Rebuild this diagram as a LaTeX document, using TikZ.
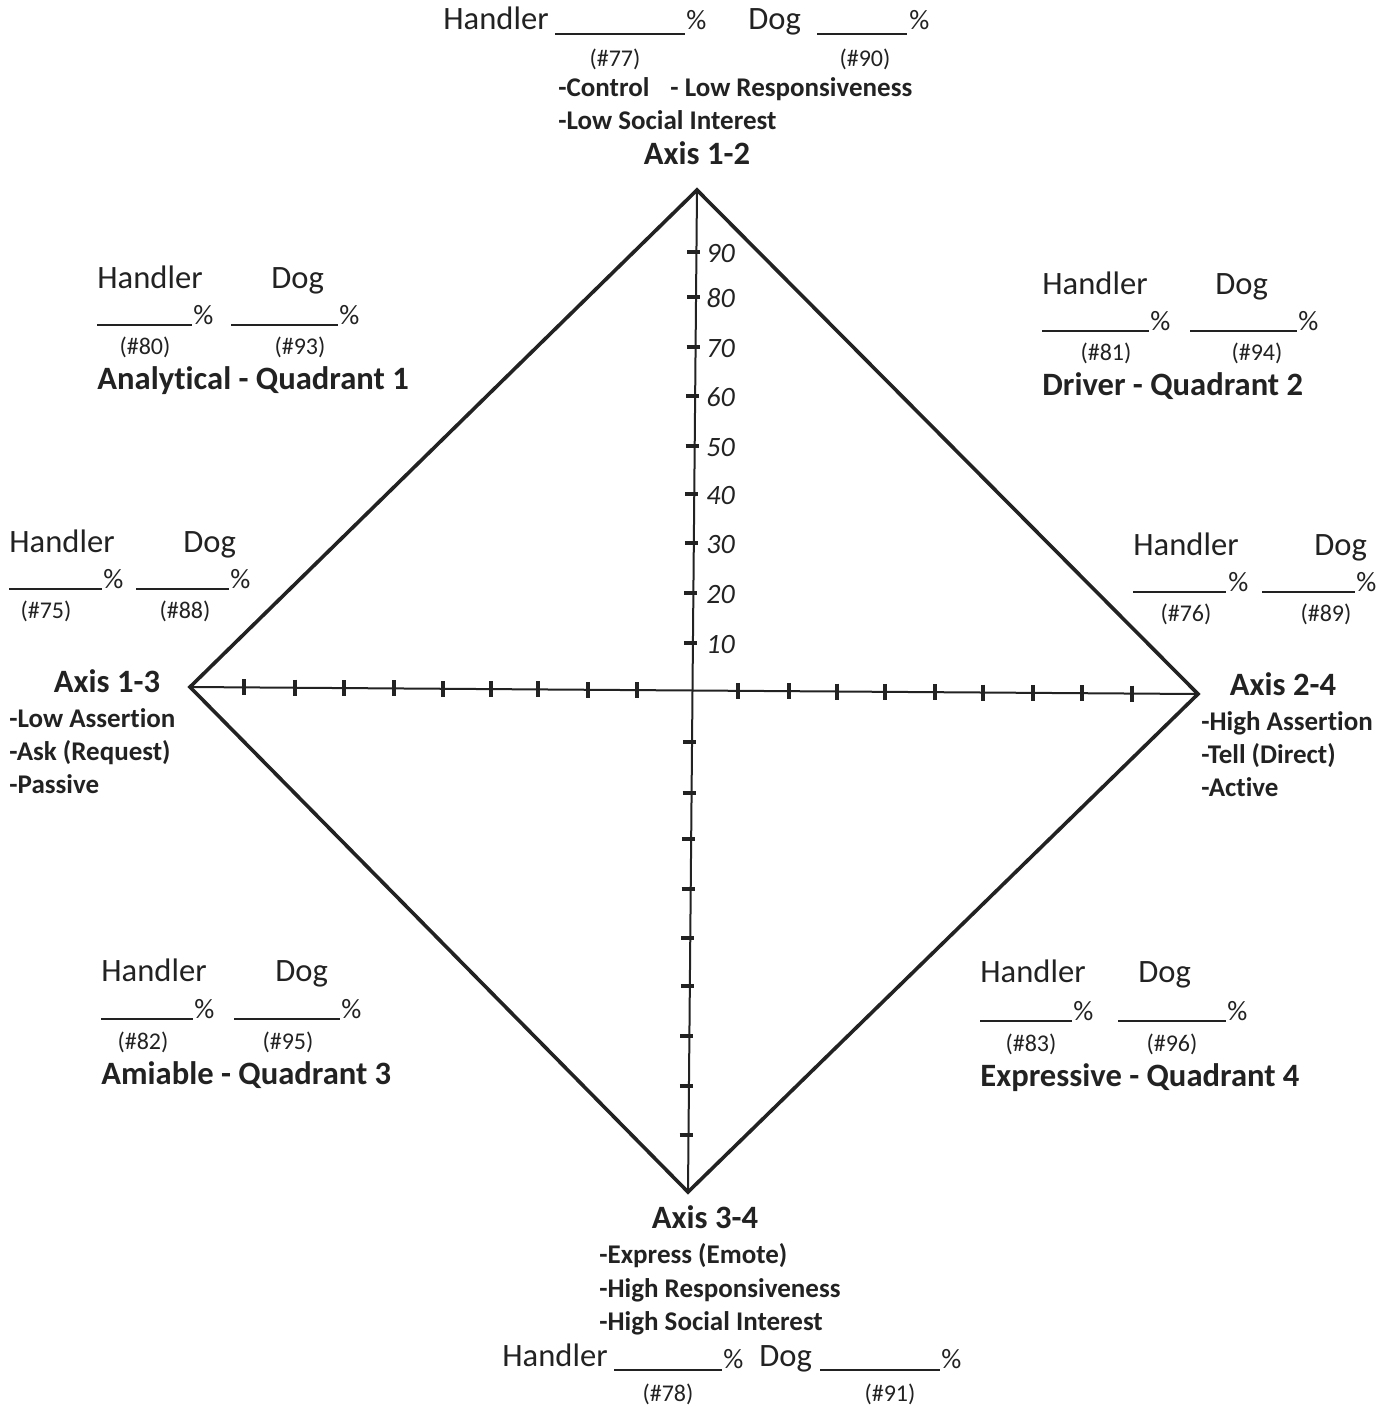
\documentclass[tikz,border=0pt]{standalone}
\usepackage{fontspec}
\setmainfont[Ligatures=NoCommon]{Carlito}
\definecolor{ink}{HTML}{222222}
\begin{document}
\begin{tikzpicture}[x=0.5pt,y=-0.5pt,
  lbl/.style={inner sep=0pt, text height=0.644em, text depth=0pt, text=ink, yshift=-2pt},
  hd/.style={lbl, font=\fontsize{16.3}{18}\selectfont, anchor=west},
  pct/.style={lbl, font=\fontsize{14}{15}\selectfont, anchor=west},
  numlbl/.style={lbl, font=\fontsize{12}{14}\selectfont, anchor=center},
  ttl/.style={lbl, font=\bfseries\fontsize{16.3}{18}\selectfont, anchor=west},
  subl/.style={lbl, font=\bfseries\fontsize{13.5}{15}\selectfont, anchor=west},
  handnum/.style={lbl, font=\itshape\fontsize{14}{15}\selectfont, anchor=west},
  blankline/.style={line width=0.7pt, draw=ink},
  frameline/.style={line width=1.8pt, draw=ink, line join=miter},
  axisline/.style={line width=1pt, draw=ink},
  tickmark/.style={line width=1.8pt, draw=ink}]
\useasboundingbox (0,0) rectangle (1393,1405);
% diamond
\coordinate (T) at (697,190);
\coordinate (R) at (1198,694);
\coordinate (B) at (688,1192);
\coordinate (L) at (190,687);
\draw[axisline] (T) -- (B);
\draw[axisline] (L) -- (R);
\draw[frameline] (T) -- (R) -- (B) -- (L) -- cycle;
% vertical ticks
\foreach \yy in {252,297,347,396,446,494,543,593,643,742,793,839,889,938,986,1036,1086,1135}{
  \pgfmathsetmacro{\xx}{697-9*(\yy-190)/1002}
  \draw[tickmark] (\xx-9,\yy) -- (\xx+4,\yy);
}
% horizontal ticks
\foreach \xx in {244,295,344,394,443,491,538,588,637,738,789,837,885,935,983,1033,1082,1132}{
  \pgfmathsetmacro{\yy}{687+7*(\xx-190)/1008}
  \draw[tickmark] (\xx,\yy-8) -- (\xx,\yy+8);
}
% handwritten scale
\foreach \yy/\v in {252/90,297/80,347/70,396/60,446/50,494/40,543/30,593/20,643/10}{
  \node[handnum] (n\v) at (706,\yy) {\v};
}
% top
\node[hd] (tH) at (443,19) {Handler};
\draw[blankline] (555,34) -- (685,34);
\node[pct] (tHp) at (686,19) {\%};
\node[hd] (tD) at (748,19) {Dog};
\draw[blankline] (817,34) -- (907,34);
\node[pct] (tDp) at (909,19) {\%};
\node[numlbl] (t77) at (615,56) {(\#77)};
\node[numlbl] (t90) at (865,56) {(\#90)};
\node[subl] (tc1) at (558,86) {-Control};
\node[subl] (tc2) at (670,86) {- Low Responsiveness};
\node[subl] (tc3) at (558,119) {-Low Social Interest};
\node[ttl,anchor=center] (ax12) at (697,154) {Axis 1-2};
% Q1
\node[hd] (q1H) at (97,278) {Handler};
\node[hd] (q1D) at (271,278) {Dog};
\draw[blankline] (97,325) -- (192,325);
\node[pct] (q1Hp) at (193,314) {\%};
\draw[blankline] (231,325) -- (338,325);
\node[pct] (q1Dp) at (339,314) {\%};
\node[numlbl] (q180) at (145,344) {(\#80)};
\node[numlbl] (q193) at (300,344) {(\#93)};
\node[ttl] (q1t) at (97,379) {Analytical - Quadrant 1};
% Q2
\node[hd] (q2H) at (1042,284) {Handler};
\node[hd] (q2D) at (1215,284) {Dog};
\draw[blankline] (1042,331) -- (1149,331);
\node[pct] (q2Hp) at (1150,320) {\%};
\draw[blankline] (1190,331) -- (1297,331);
\node[pct] (q2Dp) at (1298,320) {\%};
\node[numlbl] (q281) at (1106,350) {(\#81)};
\node[numlbl] (q294) at (1257,350) {(\#94)};
\node[ttl] (q2t) at (1042,385) {Driver - Quadrant 2};
% left axis
\node[hd] (lH) at (9,542) {Handler};
\node[hd] (lD) at (183,542) {Dog};
\draw[blankline] (9,589) -- (102,589);
\node[pct] (lHp) at (103,578) {\%};
\draw[blankline] (136,589) -- (229,589);
\node[pct] (lDp) at (230,578) {\%};
\node[numlbl] (l75) at (46,608) {(\#75)};
\node[numlbl] (l88) at (185,608) {(\#88)};
\node[ttl,anchor=center] (ax13) at (107,682) {Axis 1-3};
\node[subl] (l1) at (9,717) {-Low Assertion};
\node[subl] (l2) at (9,750) {-Ask (Request)};
\node[subl] (l3) at (9,783) {-Passive};
% right axis
\node[hd] (rH) at (1133,545) {Handler};
\node[hd] (rD) at (1314,545) {Dog};
\draw[blankline] (1133,592) -- (1226,592);
\node[pct] (rHp) at (1228,581) {\%};
\draw[blankline] (1262,592) -- (1355,592);
\node[pct] (rDp) at (1356,581) {\%};
\node[numlbl] (r76) at (1186,611) {(\#76)};
\node[numlbl] (r89) at (1326,611) {(\#89)};
\node[ttl,anchor=center] (ax24) at (1283,685) {Axis 2-4};
\node[subl] (r1) at (1201,720) {-High Assertion};
\node[subl] (r2) at (1201,753) {-Tell (Direct)};
\node[subl] (r3) at (1201,786) {-Active};
% Q3
\node[hd] (q3H) at (101,971) {Handler};
\node[hd] (q3D) at (275,971) {Dog};
\draw[blankline] (101,1019) -- (193,1019);
\node[pct] (q3Hp) at (194,1008) {\%};
\draw[blankline] (234,1019) -- (340,1019);
\node[pct] (q3Dp) at (341,1008) {\%};
\node[numlbl] (q382) at (143,1039) {(\#82)};
\node[numlbl] (q395) at (288,1039) {(\#95)};
\node[ttl] (q3t) at (101,1074) {Amiable - Quadrant 3};
% Q4
\node[hd] (q4H) at (980,972) {Handler};
\node[hd] (q4D) at (1138,972) {Dog};
\draw[blankline] (980,1021) -- (1072,1021);
\node[pct] (q4Hp) at (1073,1010) {\%};
\draw[blankline] (1118,1021) -- (1226,1021);
\node[pct] (q4Dp) at (1227,1010) {\%};
\node[numlbl] (q483) at (1031,1041) {(\#83)};
\node[numlbl] (q496) at (1172,1041) {(\#96)};
\node[ttl] (q4t) at (980,1076) {Expressive - Quadrant 4};
% bottom
\node[ttl,anchor=center] (ax34) at (705,1218) {Axis 3-4};
\node[subl] (b1) at (599,1253) {-Express (Emote)};
\node[subl] (b2) at (599,1287) {-High Responsiveness};
\node[subl] (b3) at (599,1320) {-High Social Interest};
\node[hd] (bH) at (502,1356) {Handler};
\draw[blankline] (614,1370) -- (722,1370);
\node[pct] (bHp) at (723,1358) {\%};
\node[hd] (bD) at (759,1356) {Dog};
\draw[blankline] (820,1370) -- (940,1370);
\node[pct] (bDp) at (941,1358) {\%};
\node[numlbl] (b78) at (668,1391) {(\#78)};
\node[numlbl] (b91) at (890,1391) {(\#91)};
\end{tikzpicture}
\end{document}
